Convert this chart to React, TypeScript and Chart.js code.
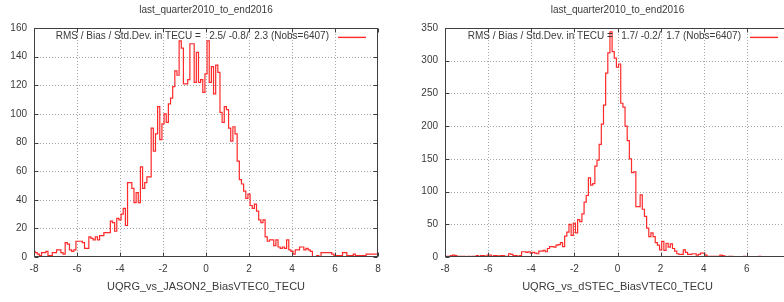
import React, { useEffect, useRef } from 'react';
import { Chart, registerables } from 'chart.js';

Chart.register(...registerables);

const TITLE = 'last_quarter2010_to_end2016';
const X_MIN = -8;
const X_MAX = 8;
const X_TICK_STEP = 2;
const BIN_WIDTH = 0.1;

const LEFT_XLABEL = 'UQRG_vs_JASON2_BiasVTEC0_TECU';
const RIGHT_XLABEL = 'UQRG_vs_dSTEC_BiasVTEC0_TECU';
const LEFT_LEGEND = 'RMS / Bias / Std.Dev. in TECU =   2.5/ -0.8/  2.3 (Nobs=6407)';
const RIGHT_LEGEND = 'RMS / Bias / Std.Dev. in TECU =   1.7/ -0.2/  1.7 (Nobs=6407)';
const LEFT_Y_MAX = 160;
const LEFT_Y_STEP = 20;
const RIGHT_Y_MAX = 350;
const RIGHT_Y_STEP = 50;

// counts per 0.1-TECU bin, bin centres from -8 to 8
const LEFT_COUNTS = [
  4, 3, 2, 1, 3, 3, 4, 1, 1, 3,
  3, 5, 5, 3, 2, 10, 9, 5, 4, 5,
  11, 11, 11, 10, 6, 6, 14, 13, 12, 14,
  12, 15, 15, 17, 17, 17, 25, 24, 18, 27,
  26, 30, 34, 22, 52, 52, 48, 38, 45, 38,
  63, 48, 52, 56, 56, 90, 74, 86, 105, 82,
  93, 100, 94, 107, 111, 119, 130, 127, 151, 146,
  121, 121, 124, 149, 149, 122, 143, 122, 124, 115,
  128, 151, 122, 133, 114, 134, 129, 101, 94, 105,
  103, 90, 81, 91, 86, 67, 54, 51, 46, 41,
  44, 36, 34, 37, 32, 26, 24, 26, 14, 11,
  12, 12, 8, 12, 7, 6, 7, 6, 12, 5,
  4, 2, 5, 5, 7, 7, 5, 6, 5, 4,
  0, 0, 1, 0, 3, 3, 3, 3, 3, 2,
  1, 1, 1, 1, 3, 3, 1, 1, 1, 2,
  1, 1, 1, 1, 1, 2, 2, 2, 2, 2,
  2,
];

const RIGHT_COUNTS = [
  1, 1, 1, 2, 3, 2, 1, 1, 1, 1,
  0, 1, 0, 1, 1, 2, 1, 2, 2, 1,
  3, 3, 1, 2, 2, 1, 2, 2, 1, 1,
  5, 4, 2, 2, 1, 2, 8, 8, 7, 8,
  6, 7, 6, 5, 9, 9, 10, 8, 13, 16,
  16, 15, 18, 19, 22, 16, 32, 38, 50, 33,
  52, 37, 57, 54, 66, 84, 94, 121, 110, 112,
  139, 148, 172, 203, 232, 281, 312, 344, 314, 304,
  290, 295, 235, 229, 200, 178, 150, 129, 130, 77,
  77, 95, 73, 62, 44, 31, 37, 31, 22, 18,
  11, 24, 10, 21, 15, 20, 13, 9, 5, 4,
  4, 11, 7, 4, 4, 5, 5, 3, 4, 6,
  6, 3, 1, 1, 1, 1, 1, 1, 3, 2,
  1, 0, 1, 1, 0, 0, 0, 0, 0, 1,
  0, 0, 0, 0, 0, 0, 1, 0, 0, 0,
  0, 0, 0, 0, 0, 0, 0, 0, 0, 0,
  0,
];

const FONT = '"Liberation Sans", Arial, sans-serif';
const TEXT_COLOR = '#3a3a3a';
const LINE_COLOR = '#ff2a2a';
const H = 302;

type PanelProps = {
  counts: number[];
  yMax: number;
  yStep: number;
  xLabel: string;
  legend: string;
  width: number;
  plotLeft: number;
  plotRight: number;
};

function Panel({ counts, yMax, yStep, xLabel, legend, width, plotLeft, plotRight }: PanelProps) {
  const ref = useRef<HTMLCanvasElement>(null);

  useEffect(() => {
    const canvas = ref.current;
    if (!canvas) return;
    const points = counts.map((v, i) => ({ x: X_MIN + i * BIN_WIDTH, y: v }));

    const decor = {
      id: 'gnuplotDecor',
      beforeDatasetsDraw(chart: any) {
        const { ctx, chartArea: a, scales } = chart;
        ctx.save();
        ctx.strokeStyle = '#a4a4a4';
        ctx.lineWidth = 1;
        ctx.setLineDash([1, 2]);
        for (const t of scales.x.ticks) {
          const px = Math.round(scales.x.getPixelForValue(t.value)) + 0.5;
          if (px <= a.left + 1 || px >= a.right - 1) continue;
          ctx.beginPath();
          ctx.moveTo(px, a.top);
          ctx.lineTo(px, a.bottom);
          ctx.stroke();
        }
        for (const t of scales.y.ticks) {
          const py = Math.round(scales.y.getPixelForValue(t.value)) + 0.5;
          if (py <= a.top + 1 || py >= a.bottom - 1) continue;
          ctx.beginPath();
          ctx.moveTo(a.left, py);
          ctx.lineTo(a.right, py);
          ctx.stroke();
        }
        ctx.restore();
      },
      afterDraw(chart: any) {
        const { ctx, chartArea: a, scales } = chart;
        ctx.save();
        ctx.setLineDash([]);
        // border
        ctx.strokeStyle = '#404040';
        ctx.lineWidth = 1;
        const l = Math.round(a.left) + 0.5;
        const r = Math.round(a.right) - 0.5;
        const t = Math.round(a.top) + 0.5;
        const b = Math.round(a.bottom) - 0.5;
        ctx.strokeRect(l, t, r - l, b - t);
        // tick marks (inward, mirrored)
        const TL = 4;
        ctx.beginPath();
        for (const tk of scales.x.ticks) {
          const px = Math.round(scales.x.getPixelForValue(tk.value)) + 0.5;
          ctx.moveTo(px, b);
          ctx.lineTo(px, b - TL);
          ctx.moveTo(px, t);
          ctx.lineTo(px, t + TL);
        }
        for (const tk of scales.y.ticks) {
          const py = Math.round(scales.y.getPixelForValue(tk.value)) + 0.5;
          ctx.moveTo(l, py);
          ctx.lineTo(l + TL, py);
          ctx.moveTo(r, py);
          ctx.lineTo(r - TL, py);
        }
        ctx.stroke();
        // texts
        const cx = (a.left + a.right) / 2;
        ctx.fillStyle = TEXT_COLOR;
        ctx.font = `10px ${FONT}`;
        ctx.textAlign = 'center';
        ctx.textBaseline = 'middle';
        ctx.fillText(TITLE, cx, 10);
        ctx.font = `11px ${FONT}`;
        ctx.fillText(xLabel, cx, 287);
        // key
        ctx.font = `10px ${FONT}`;
        ctx.textAlign = 'right';
        const ky = a.top + 8.5;
        ctx.fillText(legend, a.right - 49, ky);
        ctx.fillStyle = LINE_COLOR;
        ctx.fillRect(a.right - 40, Math.round(ky) - 0.3, 28, 1.4);
        ctx.restore();
      },
    };

    const chart = new Chart(canvas, {
      type: 'line',
      data: {
        datasets: [
          {
            data: points,
            borderColor: LINE_COLOR,
            borderWidth: 1.2,
            pointRadius: 0,
            stepped: 'middle',
            fill: false,
          } as any,
        ],
      },
      options: {
        animation: false,
        responsive: false,
        maintainAspectRatio: false,
        layout: { padding: { left: 0, right: width - plotRight, top: 28, bottom: 0 } },
        plugins: {
          legend: { display: false },
          tooltip: { enabled: false },
          title: { display: false },
        },
        scales: {
          x: {
            type: 'linear',
            min: X_MIN,
            max: X_MAX,
            grid: { display: false, drawTicks: false },
            border: { display: false },
            ticks: {
              stepSize: X_TICK_STEP,
              autoSkip: false,
              maxRotation: 0,
              padding: 6,
              color: TEXT_COLOR,
              font: { family: FONT, size: 10 },
            },
            afterFit: (s: any) => {
              s.height = H - 257;
            },
          },
          y: {
            type: 'linear',
            min: 0,
            max: yMax,
            grid: { display: false, drawTicks: false },
            border: { display: false },
            ticks: {
              stepSize: yStep,
              padding: 7,
              color: TEXT_COLOR,
              font: { family: FONT, size: 10 },
            },
            afterFit: (s: any) => {
              s.width = plotLeft;
            },
          },
        },
      } as any,
      plugins: [decor],
    });
    return () => chart.destroy();
  }, []);

  return <canvas ref={ref} width={width} height={H} style={{ display: 'block', width, height: H }} />;
}

export default function App() {
  return (
    <div
      style={{
        position: 'absolute',
        left: 0,
        top: 0,
        width: 784,
        height: H,
        overflow: 'hidden',
        background: '#ffffff',
      }}
    >
      <div style={{ position: 'absolute', left: 0, top: 0 }}>
        <Panel
          counts={LEFT_COUNTS}
          yMax={LEFT_Y_MAX}
          yStep={LEFT_Y_STEP}
          xLabel={LEFT_XLABEL}
          legend={LEFT_LEGEND}
          width={392}
          plotLeft={34}
          plotRight={378}
        />
      </div>
      <div style={{ position: 'absolute', left: 392, top: 0 }}>
        <Panel
          counts={RIGHT_COUNTS}
          yMax={RIGHT_Y_MAX}
          yStep={RIGHT_Y_STEP}
          xLabel={RIGHT_XLABEL}
          legend={RIGHT_LEGEND}
          width={410}
          plotLeft={53}
          plotRight={398}
        />
      </div>
    </div>
  );
}
